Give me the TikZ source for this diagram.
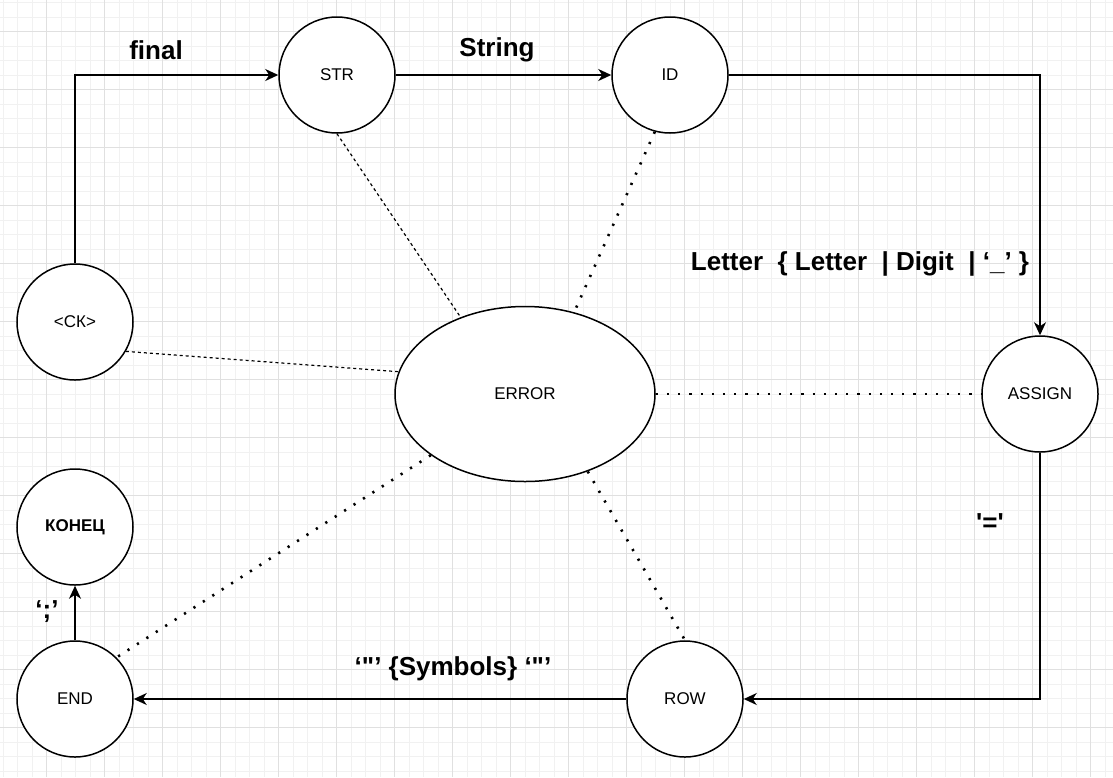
\documentclass[tikz,border=0pt]{standalone}
\usepackage{fontspec}
\setmainfont{Liberation Sans}
\usetikzlibrary{arrows.meta,shapes.geometric}
\definecolor{gridminor}{RGB}{241,241,241}
\definecolor{gridmajor}{RGB}{224,224,224}
\begin{document}
\begin{tikzpicture}[x=1pt,y=-1pt,
  state/.style={circle,draw,line width=1.5pt,fill=white,minimum size=116pt,inner sep=0pt,font=\fontsize{17}{20}\selectfont},
  bigstate/.style={ellipse,draw,line width=1.5pt,fill=white,minimum width=260pt,minimum height=175pt,inner sep=0pt,font=\fontsize{17}{20}\selectfont},
  edgelabel/.style={font=\bfseries\fontsize{26}{30}\selectfont,inner sep=0pt},
  flow/.style={line width=1.6pt,-{Stealth[length=13pt,width=12pt,inset=4pt]}},
  thindash/.style={line width=1.2pt,dash pattern=on 3pt off 3pt},
  dotline/.style={line width=2.6pt,dash pattern=on 2.2pt off 9pt},
  minorline/.style={draw=gridminor,line width=1pt},
  majorline/.style={draw=gridmajor,line width=1pt}
]
\useasboundingbox (0,0) rectangle (1113,777);
\fill[white] (0,0) rectangle (1113,777);
\foreach \i in {0,...,76} \draw[minorline] ({3.2+14.5*\i},0) -- ++(0,777);
\foreach \j in {0,...,53} \draw[minorline] (0,{2.7+14.5*\j}) -- ++(1113,0);
\foreach \i in {0,...,18} \draw[majorline] ({46.7+58*\i},0) -- ++(0,777);
\foreach \j in {0,...,12} \draw[majorline] (0,{31.7+58*\j}) -- ++(1113,0);

\node[state] (str) at (337,75) {STR};
\node[state] (id) at (670,75) {ID};
\node[state] (ck) at (75,322) {<СК>};
\node[bigstate] (err) at (525,394) {ERROR};
\node[state] (assign) at (1040,394) {ASSIGN};
\node[state] (konec) at (75,527) {\bfseries КОНЕЦ};
\node[state] (end) at (75,699) {END};
\node[state] (row) at (685,699) {ROW};

\draw[thindash] (str.south) -- (err.130.7);
\draw[thindash] (ck.-30) -- (err.170);
\draw[dotline] (id.255) -- (err.59.6);
\draw[dotline] (err.east) -- (assign.west);
\draw[dotline] (err.213.4) -- (end.45);
\draw[dotline] (err.-51) -- (row.north);

\draw[flow] (ck.north) |- (str.west);
\draw[flow] (str.east) -- (id.west);
\draw[flow] (id.east) -| (assign.north);
\draw[flow] (assign.south) |- (row.east);
\draw[flow] (row.west) -- (end.east);
\draw[flow] (end.north) -- (konec.south);

\node[edgelabel] (lfinal) at (156,50) {final};
\node[edgelabel] (lstring) at (497,50) {String};
\node[edgelabel] (lletter) at (860,264) {Letter\ \ \{ Letter\ \ | Digit\ \ | ‘\_’ \}};
\node[edgelabel] (leq) at (990,523) {\textquotesingle=\textquotesingle};
\node[edgelabel] (lsym) at (453,669) {‘\textquotedbl’ \{Symbols\} ‘\textquotedbl’};
\node[edgelabel] (lsemi) at (47,612) {‘;’};
\end{tikzpicture}
\end{document}
